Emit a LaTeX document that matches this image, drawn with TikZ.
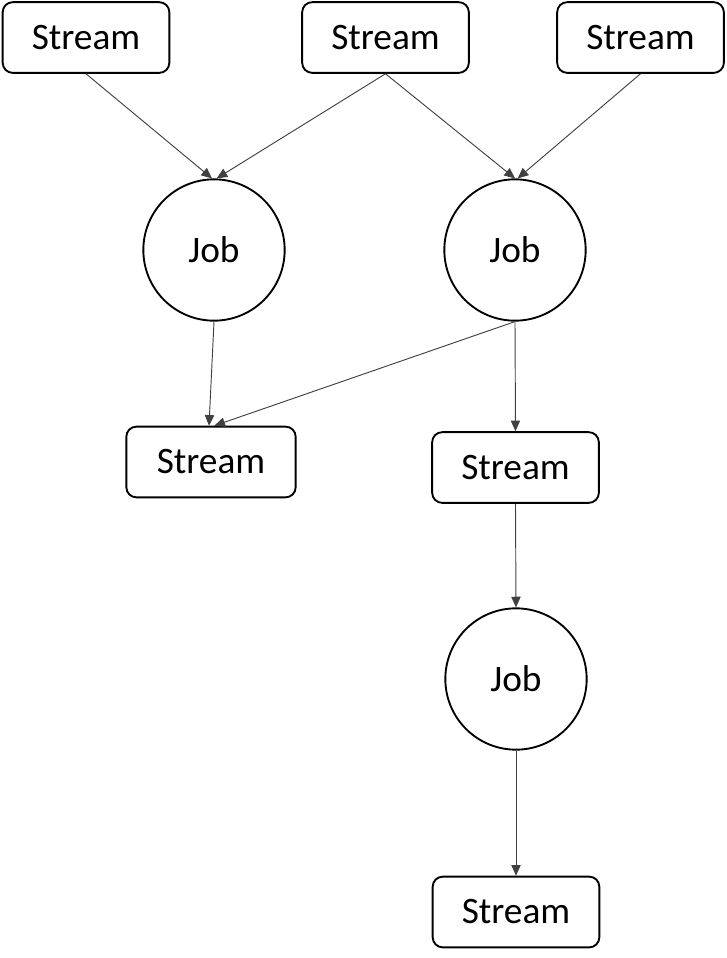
\documentclass[tikz,border=0pt]{standalone}
\usepackage{fontspec}
\setmainfont{Carlito}
\usetikzlibrary{arrows.meta}

\begin{document}
\begin{tikzpicture}
        [
            x = 0.75pt, y = -0.75pt,
            stream/.style = {shape=rectangle, draw, line width=1.4pt, rounded corners=7.5pt,
                             minimum width=125pt, minimum height=53pt, inner sep=0pt},
            job/.style    = {shape=circle, draw, line width=1.4pt, minimum size=106pt, inner sep=0pt},
            feed/.style   = {draw=black!75, line width=0.7pt, -{Triangle[length=8pt, width=7pt]}},
            every node/.style = {font=\fontsize{28}{34}\selectfont},
        ]
        \useasboundingbox (0,0) rectangle (727,958);
        % sources
        \node [stream] (s1) at (86,37.5)    {Stream};
        \node [stream] (s2) at (385.5,37.5) {Stream};
        \node [stream] (s3) at (640.5,37.5) {Stream};
        % jobs
        \node [job] (j1) at (214,250) {Job};
        \node [job] (j2) at (515,250) {Job};
        \node [job] (j3) at (516,679) {Job};
        % sinks
        \node [stream, minimum width=127pt] (s4) at (211,462)   {Stream};
        \node [stream] (s5) at (515.5,467.5) {Stream};
        \node [stream] (s6) at (516,912)     {Stream};
        % edges
        \draw [feed] (s1.south) -- ([xshift=-1.5pt]j1.north);
        \draw [feed] (s2.south) -- ([xshift=2pt]j1.north);
        \draw [feed] (s2.south) -- (j2.north);
        \draw [feed] (s3.south) -- ([xshift=2pt]j2.north);
        \draw [feed] (j1.south) -- ([xshift=-1.5pt]s4.north);
        \draw [feed] (j2.south) -- ([xshift=2.5pt]s4.north);
        \draw [feed] (j2.south) -- (s5.north);
        \draw [feed] (s5.south) -- (j3.north);
        \draw [feed] (j3.south) -- (s6.north);
\end{tikzpicture}
\end{document}
